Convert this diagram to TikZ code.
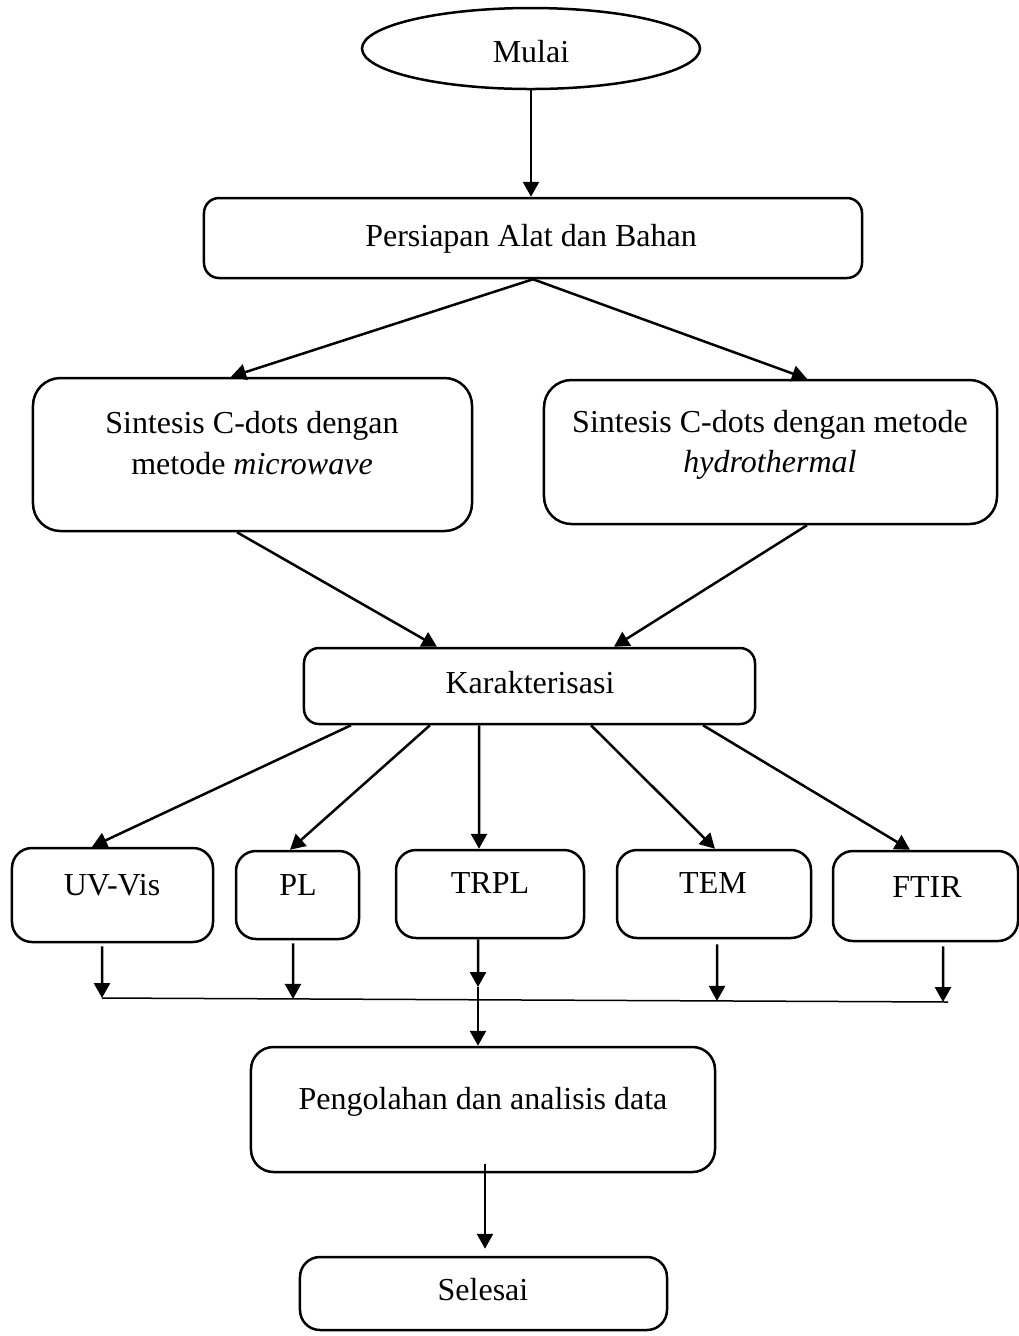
\documentclass[tikz,border=0pt]{standalone}
\usepackage{fontspec}
\setmainfont{Liberation Serif}
\usetikzlibrary{arrows.meta,shapes.geometric}
\begin{document}
\begin{tikzpicture}[x=0.4pt,y=-0.4pt,
  bx/.style={draw, line width=1pt, rounded corners=#1, inner sep=0pt},
  bx/.default=7pt,
  txt/.style={anchor=base, inner sep=0pt, font=\fontsize{12.8}{16.4}\selectfont},
  arr/.style={-{Triangle[length=6pt,width=6.4pt]}, line width=1pt},
  joinline/.style={line width=0.6pt}]
\useasboundingbox (0,0) rectangle (1019,1336);

% boxes
\node[draw, ellipse, line width=1pt, minimum width=135.2pt, minimum height=32.4pt, inner sep=0pt] (mulai) at (531,48.5) {};
\node[txt] (tmulai) at (531,62) {Mulai};

\node[bx=6pt, minimum width=263.2pt, minimum height=32pt] (prep) at (533,238) {};
\node[txt] (tprep) at (531,246) {Persiapan Alat dan Bahan};

\node[bx=11pt, minimum width=175.6pt, minimum height=61.2pt] (mw) at (252.5,454.5) {};
\node[txt] (tmw1) at (252,433) {Sintesis C-dots dengan};
\node[txt] (tmw2) at (252,474) {metode \textit{microwave}};

\node[bx=11pt, minimum width=181.2pt, minimum height=57.6pt] (hy) at (770.5,452) {};
\node[txt] (thy1) at (770,432) {Sintesis C-dots dengan metode};
\node[txt] (thy2) at (770,472) {\textit{hydrothermal}};

\node[bx=6pt, minimum width=180.4pt, minimum height=30.4pt] (kar) at (529.5,686) {};
\node[txt] (tkar) at (530,693) {Karakterisasi};

\node[bx=8pt, minimum width=80.4pt, minimum height=37.6pt] (uv) at (112.5,895) {};
\node[txt] (tuv) at (112,895) {UV-Vis};
\node[bx=8pt, minimum width=49.2pt, minimum height=35.2pt] (pl) at (297.5,895) {};
\node[txt] (tpl) at (298,895) {PL};
\node[bx=8pt, minimum width=75.2pt, minimum height=35.2pt] (trpl) at (490,894) {};
\node[txt] (ttrpl) at (490,893) {TRPL};
\node[bx=8pt, minimum width=77.6pt, minimum height=35.2pt] (tem) at (714,894) {};
\node[txt] (ttem) at (713,893) {TEM};
\node[bx=8pt, minimum width=74pt, minimum height=36pt] (ftir) at (925.5,896) {};
\node[txt] (tftir) at (927,897) {FTIR};

\node[bx=9pt, minimum width=185.6pt, minimum height=50pt] (peng) at (483,1109.5) {};
\node[txt] (tpeng) at (483,1109) {Pengolahan dan analisis data};

\node[bx=8pt, minimum width=146.8pt, minimum height=29.2pt] (sel) at (483.5,1293.5) {};
\node[txt] (tsel) at (483,1300) {Selesai};

% junction line
\coordinate (j1) at (102,998);
\coordinate (j2) at (293,998.9);
\coordinate (j3) at (478,987);
\coordinate (j5) at (948,1002);
\coordinate (j4) at (717,1000.9);
\coordinate (j6) at (943,1002);
\draw[joinline] (j1) -- (j5);

% connectors
\draw[arr] (mulai.south) -- (mulai.south |- prep.north);
\draw[arr] (prep.south) -- ([xshift=-8.6pt]mw.north);
\draw[arr] (prep.south) -- ([xshift=14.6pt]hy.north);
\draw[arr] ([xshift=-6.2pt]mw.south) -- ([xshift=-37pt]kar.north);
\draw[arr] ([xshift=14.6pt]hy.south) -- ([xshift=33.8pt]kar.north);

\draw[arr] ([xshift=-71.4pt]kar.south) -- ([xshift=-8.2pt]uv.north);
\draw[arr] ([xshift=-39.8pt]kar.south) -- ([xshift=-3pt]pl.north);
\draw[arr] ([xshift=-20.2pt]kar.south) -- ([xshift=-4.4pt]trpl.north);
\draw[arr] ([xshift=24.6pt]kar.south) -- ([xshift=0.4pt]tem.north);
\draw[arr] ([xshift=69.4pt]kar.south) -- ([xshift=-6.2pt]ftir.north);

\draw[arr] ([xshift=-4.2pt,yshift=-1.2pt]uv.south) -- (j1);
\draw[arr] ([xshift=-1.8pt,yshift=-1.2pt]pl.south) -- (j2);
\draw[arr] ([xshift=-4.8pt]trpl.south) -- (j3);
\draw[arr] ([xshift=1.2pt,yshift=-2pt]tem.south) -- (j4);
\draw[arr] ([xshift=7pt,yshift=-1.6pt]ftir.south) -- (j6);
\draw[arr] (j3) -- (j3 |- peng.north);

\draw[arr] ([xshift=0.8pt,yshift=3.6pt]peng.south) -- ([xshift=0.6pt,yshift=2.8pt]sel.north);
\end{tikzpicture}
\end{document}
